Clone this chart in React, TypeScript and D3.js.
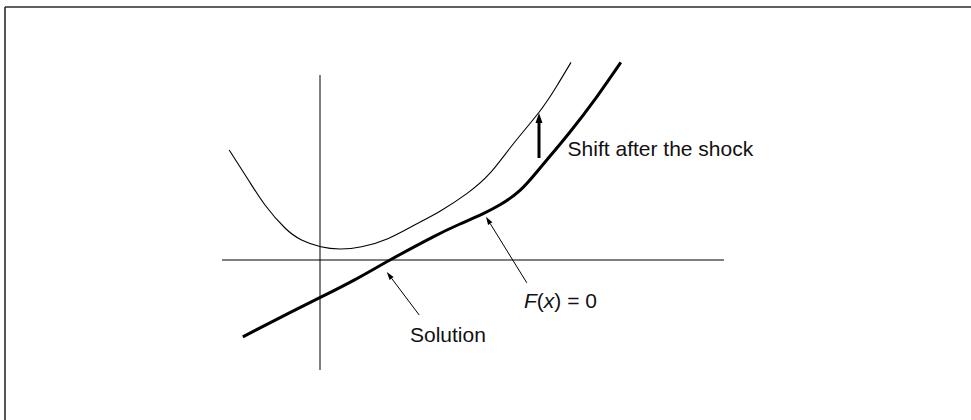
import { useMemo } from "react";
import * as d3 from "d3";

// curve points in chart units (origin = axis crossing)
const baseCurve: [number, number][] = [
  [-1.93, -1.92], [-0.96, -1.42], [0.02, -0.93], [0.875, -0.49], [1.75, 0.0],
  [2.83, 0.58], [3.5, 0.9], [4.08, 1.16], [4.5, 1.38], [5.0, 1.74],
  [5.42, 2.2], [5.67, 2.5], [6.25, 3.2], [6.92, 4.08], [7.52, 4.94],
];

const shiftedCurve: [number, number][] = [
  [-2.27, 2.75], [-1.79, 2.0], [-1.375, 1.375], [-0.875, 0.8], [-0.46, 0.5],
  [0.02, 0.33], [0.5, 0.275], [1.04, 0.33], [1.71, 0.54], [2.375, 0.88],
  [3.0, 1.22], [3.67, 1.66], [4.25, 2.17], [4.83, 2.9], [5.48, 3.7],
  [5.92, 4.35], [6.275, 4.94],
];

const xExtent = [-2.45, 10.1];
const yExtent = [-2.75, 4.625];

// [from, to] for the annotation arrows
const shiftArrow: [number, number][] = [[5.475, 2.55], [5.475, 3.675]];
const solutionArrow: [number, number][] = [[2.48, -1.375], [1.67, -0.3]];
const rootArrow: [number, number][] = [[5.17, -0.57], [4.15, 1.08]];

const labels = [
  { text: "Shift after the shock", at: [6.19, 2.6] },
  { text: "Solution", at: [2.25, -2.04] },
];
const fxLabelAt = [5.1, -1.21];

const W = 971;
const H = 420;
const FONT = "'Liberation Sans', Arial, Helvetica, sans-serif";

function Arrow({ p, x, y, width, head, headW }) {
  const x0 = x(p[0][0]), y0 = y(p[0][1]);
  const x1 = x(p[1][0]), y1 = y(p[1][1]);
  const ang = Math.atan2(y1 - y0, x1 - x0);
  const bx = x1 - head * Math.cos(ang), by = y1 - head * Math.sin(ang);
  const nx = -Math.sin(ang) * headW / 2, ny = Math.cos(ang) * headW / 2;
  return (
    <g>
      <line x1={x0} y1={y0} x2={bx} y2={by} stroke="#000" strokeWidth={width} />
      <path d={`M${x1},${y1}L${bx + nx},${by + ny}L${bx - nx},${by - ny}Z`} fill="#000" />
    </g>
  );
}

export default function App() {
  const x = useMemo(() => d3.scaleLinear().domain(xExtent).range([222, 724]), []);
  const y = useMemo(() => d3.scaleLinear().domain(yExtent).range([370, 75]), []);

  const line = d3.line<[number, number]>()
    .x(d => x(d[0]))
    .y(d => y(d[1]))
    .curve(d3.curveNatural);

  return (
    <svg width={W} height={H} style={{ position: "absolute", left: 0, top: 0, background: "#fff" }}>
      <line x1={5} y1={7} x2={W} y2={7} stroke="#2b2b2b" strokeWidth={1.6} />
      <line x1={5} y1={7} x2={5} y2={H} stroke="#2b2b2b" strokeWidth={1.6} />

      <line x1={x(xExtent[0])} x2={x(xExtent[1])} y1={y(0)} y2={y(0)} stroke="#000" strokeWidth={1} />
      <line x1={x(0)} x2={x(0)} y1={y(yExtent[0])} y2={y(yExtent[1])} stroke="#000" strokeWidth={1} />

      <path d={line(shiftedCurve) || ""} fill="none" stroke="#000" strokeWidth={1.1} />
      <path d={line(baseCurve) || ""} fill="none" stroke="#000" strokeWidth={3} strokeLinecap="butt" />

      <Arrow p={shiftArrow} x={x} y={y} width={3} head={10} headW={7} />
      <Arrow p={solutionArrow} x={x} y={y} width={1} head={8} headW={5} />
      <Arrow p={rootArrow} x={x} y={y} width={1} head={8} headW={5} />

      {labels.map(l => (
        <text key={l.text} x={x(l.at[0])} y={y(l.at[1])} fontFamily={FONT} fontSize={21} fill="#111">
          {l.text}
        </text>
      ))}
      <text x={x(fxLabelAt[0])} y={y(fxLabelAt[1])} fontFamily={FONT} fontSize={21} fill="#111">
        <tspan fontStyle="italic">F</tspan>(<tspan fontStyle="italic">x</tspan>) = 0
      </text>
    </svg>
  );
}
